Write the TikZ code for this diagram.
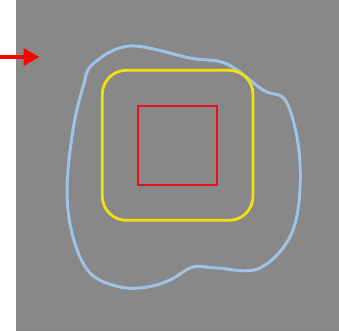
\documentclass[tikz,border=0pt]{standalone}
\usetikzlibrary{arrows.meta}
\definecolor{bggray}{HTML}{888888}
\definecolor{blobblue}{HTML}{9DC3E6}
\definecolor{boxyellow}{HTML}{F0E210}
\definecolor{boxred}{HTML}{E8111C}
\tikzset{
  blob/.style={draw=blobblue, line width=3pt},
  outerbox/.style={draw=boxyellow, line width=2.8pt, rounded corners=24pt},
  innerbox/.style={draw=boxred, line width=2.3pt},
  pointer/.style={draw=red, line width=3.6pt, -{Triangle[length=16pt,width=17pt]}}
}
\begin{document}
\begin{tikzpicture}[x=1pt,y=-1pt]
\useasboundingbox (0,0) rectangle (339,331);
\fill[bggray] (15.5,0) rectangle (339,331);
\coordinate (arrowstart) at (0,57);
\coordinate (arrowend) at (39.5,57);
\draw[pointer] (arrowstart) -- (arrowend);
\draw[blob] plot[smooth cycle, tension=0.6] coordinates {
  (93,64) (130,46) (190,58) (227,64) (263,90) (287,103) (300,163)
  (293,230) (260,268) (217,268) (193,267) (170,280) (147,287)
  (120,287) (90,273) (73,237) (67,190) (73,130) (83,87)};
\draw[outerbox] (102.3,70.3) rectangle (253,220.3);
\draw[innerbox] (137.7,106) rectangle (217,184.7);
\end{tikzpicture}
\end{document}
